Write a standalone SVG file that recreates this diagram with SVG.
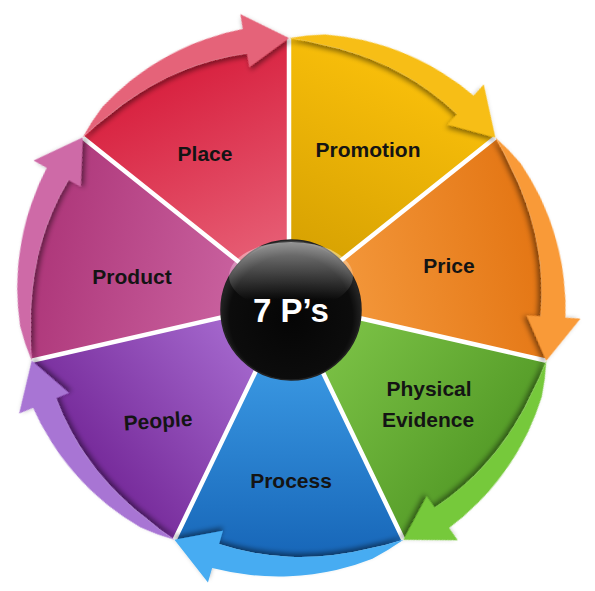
<svg xmlns="http://www.w3.org/2000/svg" xmlns:xlink="http://www.w3.org/1999/xlink" width="595" height="591" viewBox="0 0 595 591">
<style>
.lbl{font-family:"Liberation Sans",Arial,sans-serif;font-weight:bold;font-size:21px;fill:#141414;text-anchor:middle}
.sep{stroke:#ffffff;stroke-width:4.5;stroke-linecap:round}
.arr{filter:url(#sh)}
</style>
<defs>
<path id="sector" d="M0 0 L-114.54 -237.86 A262 262 0 0 1 -80.08 -246.45 A258 258 0 0 1 -44.60 -252.94 A256 256 0 0 1 0 -254.7 A254 254 0 0 1 35.25 -250.81 A253 253 0 0 1 69.94 -242.10 L114.54 -237.86 Z"/>
<path id="arrow" d="M-114.54 -237.86 A267 267 0 0 1 -83.40 -256.66 A271 271 0 0 1 -47.26 -268.03 A273 273 0 0 1 0 -274.3 A275 275 0 0 1 38.37 -273.04 A276 276 0 0 1 76.88 -266.12 L81.04 -280.53 L114.54 -237.86 L66.05 -228.65 L69.94 -242.10 A253 253 0 0 0 35.25 -250.81 A254 254 0 0 0 0 -254.7 A256 256 0 0 0 -44.60 -252.94 A258 258 0 0 0 -80.08 -246.45 A262 262 0 0 0 -114.54 -237.86 Z"/>
<filter id="sh" x="-20%" y="-20%" width="140%" height="140%">
<feDropShadow dx="0" dy="3.5" stdDeviation="2.5" flood-color="#000" flood-opacity="0.45"/>
</filter>
<linearGradient id="gPlace" x1="0" y1="1" x2="0" y2="0"><stop offset="0" stop-color="#EA6D82"/><stop offset="1" stop-color="#D8213F"/></linearGradient>
<linearGradient id="gPromo" x1="0" y1="1" x2="0" y2="0"><stop offset="0" stop-color="#CF9B00"/><stop offset="1" stop-color="#F8BE0A"/></linearGradient>
<linearGradient id="gPrice" x1="0" y1="1" x2="0" y2="0"><stop offset="0" stop-color="#F7A045"/><stop offset="1" stop-color="#E47614"/></linearGradient>
<linearGradient id="gPhys" x1="0" y1="1" x2="0" y2="0"><stop offset="0" stop-color="#86CC4E"/><stop offset="1" stop-color="#559C28"/></linearGradient>
<linearGradient id="gProc" x1="0" y1="1" x2="0" y2="0"><stop offset="0" stop-color="#45A8F0"/><stop offset="1" stop-color="#1766B8"/></linearGradient>
<linearGradient id="gPeop" x1="0" y1="1" x2="0" y2="0"><stop offset="0" stop-color="#B27ADC"/><stop offset="1" stop-color="#762A9A"/></linearGradient>
<linearGradient id="gProd" x1="0" y1="1" x2="0" y2="0"><stop offset="0" stop-color="#D06CA8"/><stop offset="1" stop-color="#AE377A"/></linearGradient>
<radialGradient id="gBall" cx="0.5" cy="0.55" r="0.55"><stop offset="0" stop-color="#050505"/><stop offset="0.8" stop-color="#0c0c0c"/><stop offset="0.96" stop-color="#2a2a2a"/><stop offset="1" stop-color="#555"/></radialGradient>
<linearGradient id="gShine" x1="0" y1="0" x2="0" y2="1"><stop offset="0" stop-color="#fff" stop-opacity="0.5"/><stop offset="0.85" stop-color="#fff" stop-opacity="0"/></linearGradient>
</defs>
<rect width="595" height="591" fill="#ffffff"/>

<g id="promotion"><use xlink:href="#sector" fill="url(#gPromo)" transform="translate(289 302) rotate(25.714)"/><text class="lbl" x="368" y="157">Promotion</text></g>
<g id="price"><use xlink:href="#sector" fill="url(#gPrice)" transform="translate(289 302) rotate(77.143)"/><text class="lbl" x="449" y="273">Price</text></g>
<g id="physical-evidence"><use xlink:href="#sector" fill="url(#gPhys)" transform="translate(289 302) rotate(128.571)"/><text class="lbl" x="429" y="396">Physical</text><text class="lbl" x="428" y="427">Evidence</text></g>
<g id="process"><use xlink:href="#sector" fill="url(#gProc)" transform="translate(289 302) rotate(180)"/><text class="lbl" x="291" y="488">Process</text></g>
<g id="people"><use xlink:href="#sector" fill="url(#gPeop)" transform="translate(289 302) rotate(231.429)"/><text class="lbl" x="158" y="428" transform="rotate(-4 158 421)">People</text></g>
<g id="product"><use xlink:href="#sector" fill="url(#gProd)" transform="translate(289 302) rotate(282.857)"/><text class="lbl" x="132" y="284">Product</text></g>
<g id="place"><use xlink:href="#sector" fill="url(#gPlace)" transform="translate(289 302) rotate(334.286)"/><text class="lbl" x="205" y="161">Place</text></g>

<g id="separators">
<line class="sep" x1="289" y1="302" x2="289" y2="38"/>
<line class="sep" x1="289" y1="302" x2="495.4" y2="137.4"/>
<line class="sep" x1="289" y1="302" x2="546.4" y2="360.7"/>
<line class="sep" x1="289" y1="302" x2="403.5" y2="539.9"/>
<line class="sep" x1="289" y1="302" x2="174.5" y2="539.9"/>
<line class="sep" x1="289" y1="302" x2="31.6" y2="360.7"/>
<line class="sep" x1="289" y1="302" x2="82.6" y2="137.4"/>
</g>

<g id="connectors">
<use class="arr" xlink:href="#arrow" fill="#F7BE17" transform="translate(289 302) rotate(25.714)"/>
<use class="arr" xlink:href="#arrow" fill="#F99A38" transform="translate(289 302) rotate(77.143)"/>
<use class="arr" xlink:href="#arrow" fill="#76C93A" transform="translate(289 302) rotate(128.571)"/>
<use class="arr" xlink:href="#arrow" fill="#46ACF2" transform="translate(289 302) rotate(180)"/>
<use class="arr" xlink:href="#arrow" fill="#A874D4" transform="translate(289 302) rotate(231.429)"/>
<use class="arr" xlink:href="#arrow" fill="#CE6BA7" transform="translate(289 302) rotate(282.857)"/>
<use class="arr" xlink:href="#arrow" fill="#E56479" transform="translate(289 302) rotate(334.286)"/>
</g>

<g id="center">
<circle cx="291" cy="310" r="70" fill="url(#gBall)" stroke="#222" stroke-width="1.5"/>
<ellipse cx="291" cy="276" rx="62" ry="34" fill="url(#gShine)"/>
<text x="291" y="322" font-family="Liberation Sans,Arial,sans-serif" font-weight="bold" font-size="33" fill="#ffffff" text-anchor="middle">7 P’s</text>
</g>
</svg>
